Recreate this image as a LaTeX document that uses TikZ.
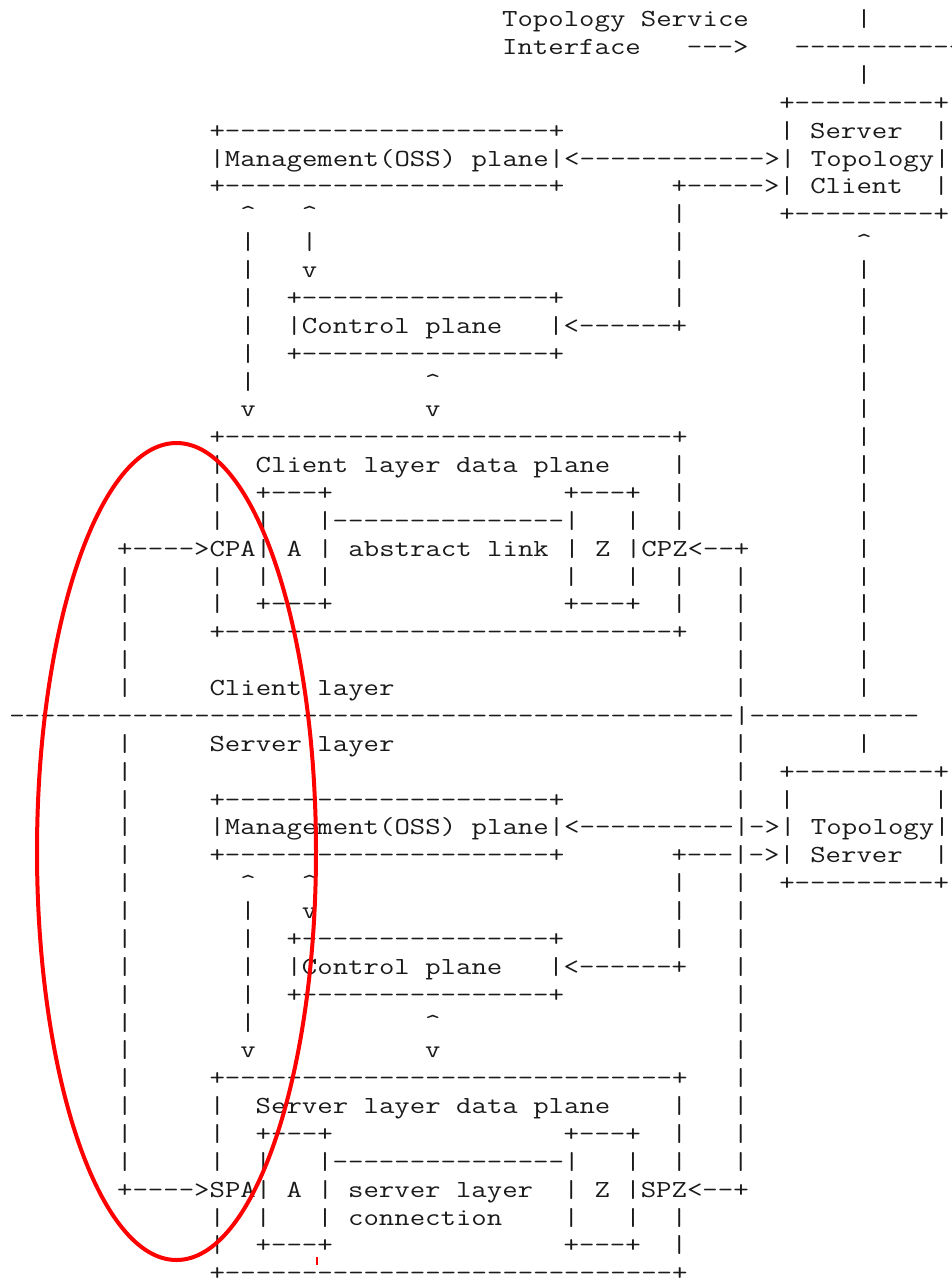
\documentclass[tikz,border=0pt]{standalone}
\usepackage{fontspec}
\usepackage{graphicx}
\definecolor{inkgray}{HTML}{1A1A1A}
\definecolor{markred}{HTML}{FF0000}
\tikzset{
  asciitxt/.style={anchor=base west, inner sep=0pt, outer sep=0pt, text=inkgray,
    font=\ttfamily\fontsize{24.5pt}{27.87pt}\selectfont},
  ring/.style={draw=markred, line width=4pt}
}
% \T{row}{column}{text}
\newcommand\T[3]{\node[asciitxt] (n#1-#2) at ({9.3+15.4*#2},{26.7+27.87*#1}) {\scalebox{1.2222}[1]{#3}};}
\newcommand\up{\textasciicircum}
\begin{document}
\begin{tikzpicture}[x=1pt,y=-1pt]
\useasboundingbox[fill=white] (0,0) rectangle (952,1280);
% top right
\T{0}{32}{Topology Service}\T{0}{55}{|}
\T{1}{32}{Interface}\T{1}{44}{--->}\T{1}{51}{-----------}
\T{2}{55}{|}
\T{3}{50}{+---------+}
\T{4}{13}{+---------------------+}\T{4}{50}{| Server\ \ |}
\T{5}{13}{|Management(OSS) plane|<------------>| Topology|}
\T{6}{13}{+---------------------+}\T{6}{43}{+----->| Client\ \ |}
\T{7}{15}{\up}\T{7}{19}{\up}\T{7}{43}{|}\T{7}{50}{+---------+}
\T{8}{15}{|}\T{8}{19}{|}\T{8}{43}{|}\T{8}{55}{\up}
\T{9}{15}{|}\T{9}{19}{v}\T{9}{43}{|}\T{9}{55}{|}
\T{10}{15}{|}\T{10}{18}{+----------------+}\T{10}{43}{|}\T{10}{55}{|}
\T{11}{15}{|}\T{11}{18}{|Control plane}\T{11}{35}{|<------+}\T{11}{55}{|}
\T{12}{15}{|}\T{12}{18}{+----------------+}\T{12}{55}{|}
\T{13}{15}{|}\T{13}{27}{\up}\T{13}{55}{|}
\T{14}{15}{v}\T{14}{27}{v}\T{14}{55}{|}
% client layer data plane
\T{15}{13}{+-----------------------------+}\T{15}{55}{|}
\T{16}{13}{|}\T{16}{16}{Client layer data plane}\T{16}{43}{|}\T{16}{55}{|}
\T{17}{13}{|}\T{17}{16}{+---+}\T{17}{36}{+---+}\T{17}{43}{|}\T{17}{55}{|}
\T{18}{13}{|}\T{18}{16}{|}\T{18}{20}{|---------------|}\T{18}{40}{|}\T{18}{43}{|}\T{18}{55}{|}
\T{19}{7}{+---->CPA| A | abstract link | Z |CPZ<--+}\T{19}{55}{|}
\T{20}{7}{|}\T{20}{13}{|}\T{20}{16}{|}\T{20}{20}{|}\T{20}{36}{|}\T{20}{40}{|}\T{20}{43}{|}\T{20}{47}{|}\T{20}{55}{|}
\T{21}{7}{|}\T{21}{13}{|}\T{21}{16}{+---+}\T{21}{36}{+---+}\T{21}{43}{|}\T{21}{47}{|}\T{21}{55}{|}
\T{22}{7}{|}\T{22}{13}{+-----------------------------+}\T{22}{47}{|}\T{22}{55}{|}
\T{23}{7}{|}\T{23}{47}{|}\T{23}{55}{|}
\T{24}{7}{|}\T{24}{13}{Client layer}\T{24}{47}{|}\T{24}{55}{|}
\T{25}{0}{-----------------------------------------------|-----------}
\T{26}{7}{|}\T{26}{13}{Server layer}\T{26}{47}{|}\T{26}{55}{|}
\T{27}{7}{|}\T{27}{47}{|}\T{27}{50}{+---------+}
\T{28}{7}{|}\T{28}{13}{+---------------------+}\T{28}{47}{|}\T{28}{50}{|}\T{28}{60}{|}
\T{29}{7}{|}\T{29}{13}{|Management(OSS) plane|<----------|->| Topology|}
\T{30}{7}{|}\T{30}{13}{+---------------------+}\T{30}{43}{+---|->| Server\ \ |}
\T{31}{7}{|}\T{31}{15}{\up}\T{31}{19}{\up}\T{31}{43}{|}\T{31}{47}{|}\T{31}{50}{+---------+}
\T{32}{7}{|}\T{32}{15}{|}\T{32}{19}{v}\T{32}{43}{|}\T{32}{47}{|}
\T{33}{7}{|}\T{33}{15}{|}\T{33}{18}{+----------------+}\T{33}{43}{|}\T{33}{47}{|}
\T{34}{7}{|}\T{34}{15}{|}\T{34}{18}{|Control plane}\T{34}{35}{|<------+}\T{34}{47}{|}
\T{35}{7}{|}\T{35}{15}{|}\T{35}{18}{+----------------+}\T{35}{47}{|}
\T{36}{7}{|}\T{36}{15}{|}\T{36}{27}{\up}\T{36}{47}{|}
\T{37}{7}{|}\T{37}{15}{v}\T{37}{27}{v}\T{37}{47}{|}
% server layer data plane
\T{38}{7}{|}\T{38}{13}{+-----------------------------+}\T{38}{47}{|}
\T{39}{7}{|}\T{39}{13}{|}\T{39}{16}{Server layer data plane}\T{39}{43}{|}\T{39}{47}{|}
\T{40}{7}{|}\T{40}{13}{|}\T{40}{16}{+---+}\T{40}{36}{+---+}\T{40}{43}{|}\T{40}{47}{|}
\T{41}{7}{|}\T{41}{13}{|}\T{41}{16}{|}\T{41}{20}{|---------------|}\T{41}{40}{|}\T{41}{43}{|}\T{41}{47}{|}
\T{42}{7}{+---->SPA| A |}\T{42}{22}{server layer}\T{42}{36}{| Z |SPZ<--+}
\T{43}{13}{|}\T{43}{16}{|}\T{43}{20}{|}\T{43}{22}{connection}\T{43}{36}{|}\T{43}{40}{|}\T{43}{43}{|}
\T{44}{13}{|}\T{44}{16}{+---+}\T{44}{36}{+---+}\T{44}{43}{|}
\T{45}{13}{+-----------------------------+}
% red annotation
\draw[ring] (176.5,851.5) ellipse [x radius=139.5, y radius=408.5];
\draw[draw=markred, line width=1.5pt] (317,1257) -- (317,1265);
\end{tikzpicture}
\end{document}
